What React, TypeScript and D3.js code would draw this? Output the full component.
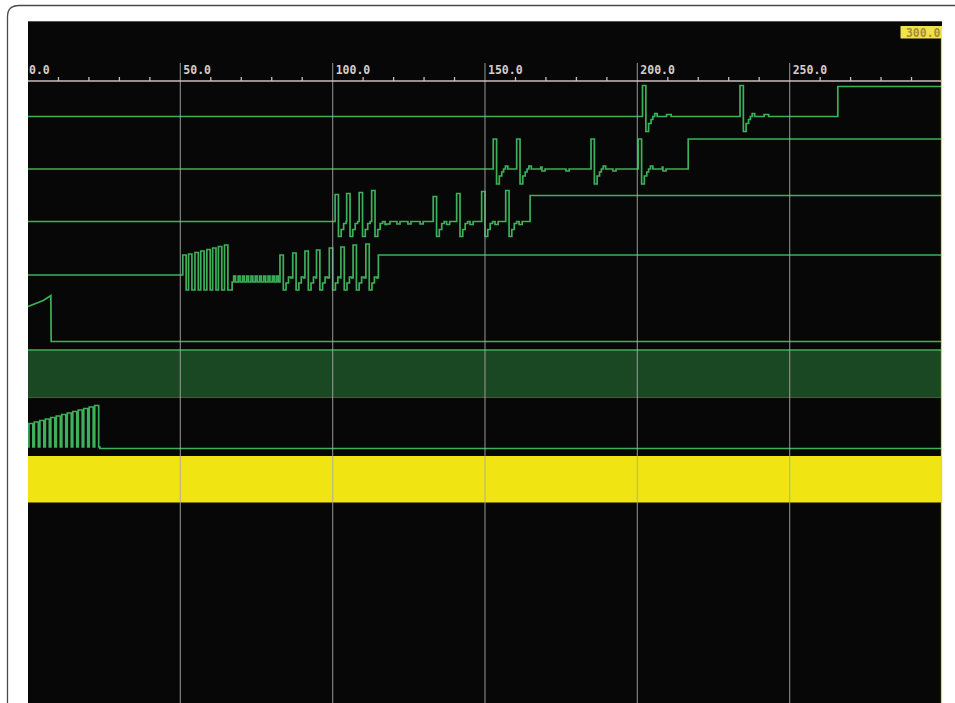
import React from "react";
import * as d3 from "d3";

const W = 955;
const H = 703;
const T_MAX = 300;

// ---------- axis data ----------
const majorTicks = [0, 50, 100, 150, 200, 250];
const tickLabels = ["0.0", "50.0", "100.0", "150.0", "200.0", "250.0"];
const cursorLabel = "300.0";

// ---------- trace data (time, amplitude) ----------
// spike waveform templates: [time offset, level]; first level replaced by the spike height
const spikeShapeA: [number, number][] = [[0, 0], [1.1, -15], [2.0, -7], [2.8, -3], [3.4, 0], [4.0, 3], [4.8, 0], [7.9, 2], [9.4, 0]];
const spikeShapeB: [number, number][] = [[0, 0], [1.1, -15], [2.0, -8], [2.8, -2], [3.6, 0], [4.4, -3], [5.4, 0]];

// row 1
const row1Spikes: [number, number][] = [[201.7, 31], [233.7, 31]];
const row1Steps: [number, number][] = [[265.8, 30]];

// row 2
const row2Spikes: [number, number][] = [[152.7, 30], [160.4, 30], [184.8, 30], [200.3, 30]];
const row2Dips = [168.7, 176.6, 192.0, 208.4];
const row2Steps: [number, number][] = [[216.7, 30]];

// row 3
const row3Spikes: [number, number][] = [[100.8, 27], [104.6, 28], [108.7, 29], [112.8, 31], [133.0, 25], [140.7, 28], [148.9, 30], [156.8, 31]];
const row3Dips = [117.8, 121.1, 124.7, 128.7];
const row3Steps: [number, number][] = [[164.8, 26]];

// row 4
const row4BurstRise = [50.8, 52.7, 54.8, 56.7, 58.7, 60.6, 62.5, 64.5];
const row4BurstTop = [20, 21, 22.5, 24, 25.5, 27, 28.5, 30];
const row4BurstEnd = 66.3;
const row4Ripple = [67.5, 69.0, 70.4, 71.8, 73.2, 74.6, 76.0, 77.4, 78.8, 80.2, 81.5];
const row4Spikes: [number, number][] = [[82.7, 20], [86.9, 22], [90.9, 24], [94.7, 25], [98.9, 27], [102.7, 28], [106.7, 30], [110.9, 31]];
const row4Steps: [number, number][] = [[115.0, 20]];

// row 5 (ramp then drop)
const row5Points: [number, number][] = [[0, 35], [2.5, 38], [5, 41], [7.5, 46], [7.6, 0], [300, 0]];

// row 7 burst
const row7BurstRise = [0.3, 2.1, 3.9, 5.7, 7.5, 9.3, 11.1, 12.9, 14.7, 16.5, 18.3, 20.1, 21.9];
const row7BurstTop = [25, 26.5, 28, 29.5, 31, 32.5, 34, 35.5, 37, 38.5, 40, 41.5, 43];
const row7BurstEnd = 23.6;

// ---------- layout ----------
const PANEL_L = 28;
const PANEL_R = 942;
const PANEL_T = 21;
const AXIS_Y = 81;
const baselines = { r1: 116.5, r2: 169, r3: 221.5, r4: 275, r5: 341.5, r7: 448.5 };
const BAND_G = { top: 350, bottom: 397.5 };
const BAND_Y = { top: 456, bottom: 502.5 };

const GREEN = "#3db05a";

type Ev = { t: number; pts: [number, number][] };

function spikes(list: [number, number][], shape: [number, number][]): Ev[] {
  return list.map(([t, a]) => ({ t, pts: shape.map(([dt, v], k) => [dt, k === 0 ? a : v] as [number, number]) }));
}
function steps(list: [number, number][]): Ev[] {
  return list.map(([t, v]) => ({ t, pts: [[0, v]] }));
}
function dips(list: number[], depth: number, width: number, rest: number): Ev[] {
  return list.map((t) => ({ t, pts: [[0, depth], [width, rest]] }));
}
function burst(rise: number[], top: number[], high: number, low: number): Ev[] {
  return rise.map((t, i) => ({ t, pts: [[0, top[i]], [high, low]] }));
}

function buildTrace(init: number, events: Ev[]): [number, number][] {
  const ev = [...events].sort((a, b) => a.t - b.t);
  const out: [number, number][] = [[0, init]];
  ev.forEach((e, i) => {
    const next = i + 1 < ev.length ? ev[i + 1].t : T_MAX;
    e.pts.forEach(([dt, v]) => {
      if (dt === 0 || e.t + dt < next) out.push([e.t + dt, v]);
    });
  });
  out.push([T_MAX, out[out.length - 1][1]]);
  return out;
}

export default function App() {
  const x = d3.scaleLinear().domain([0, T_MAX]).range([PANEL_L, PANEL_R]);
  const yFor = (b: number) => d3.scaleLinear().domain([0, 30]).range([b, b - 30]);

  const stepLine = (b: number) => {
    const y = yFor(b);
    return d3
      .line<[number, number]>()
      .x((d) => x(d[0]))
      .y((d) => y(d[1]))
      .curve(d3.curveStepAfter);
  };

  const tr1 = buildTrace(0, [...spikes(row1Spikes, spikeShapeA), ...steps(row1Steps)]);
  const tr2 = buildTrace(0, [...spikes(row2Spikes, spikeShapeA), ...dips(row2Dips, -2, 1.0, 0), ...steps(row2Steps)]);
  const tr3 = buildTrace(0, [...spikes(row3Spikes, spikeShapeB), ...dips(row3Dips, -2.5, 1.0, 0), ...steps(row3Steps)]);
  const tr4 = buildTrace(0, [
    ...burst(row4BurstRise, row4BurstTop, 1.1, -15),
    { t: row4BurstEnd, pts: [[0, -15], [0.7, -7]] },
    ...dips(row4Ripple, -1, 0.6, -7),
    ...spikes(row4Spikes, spikeShapeB.map(([dt, v]) => [dt, v === 0 ? -3 : v] as [number, number])),
    ...steps(row4Steps),
  ]);
  const tr7 = buildTrace(1.5, [
    ...burst(row7BurstRise, row7BurstTop, 1.3, 1.5),
    { t: row7BurstEnd, pts: [[0, 0]] },
  ]);

  const y5 = yFor(baselines.r5);
  const line5 = d3
    .line<[number, number]>()
    .x((d) => x(d[0]))
    .y((d) => y5(d[1]));

  const minor = x.ticks(30).filter((t) => t % 50 !== 0);
  const grid = majorTicks.filter((t) => t > 0);

  const mono = "'DejaVu Sans Mono', 'Liberation Mono', monospace";

  return (
    <svg width={W} height={H} style={{ position: "absolute", left: 0, top: 0, display: "block" }}>
      <rect x={0} y={0} width={W} height={H} fill="#ffffff" />
      {/* outer frame */}
      <path d={`M7.5,${H} V17 Q7.5,5.5 19,5.5 H${W}`} fill="none" stroke="#4a4a4a" strokeWidth={1.3} />
      {/* panel */}
      <rect x={PANEL_L} y={PANEL_T} width={PANEL_R - PANEL_L} height={H - PANEL_T} fill="#070707" />
      <line x1={PANEL_L} x2={PANEL_R} y1={PANEL_T + 0.5} y2={PANEL_T + 0.5} stroke="#7a4a2a" strokeWidth={1} />

      {/* green band */}
      <rect x={PANEL_L} y={BAND_G.top} width={PANEL_R - PANEL_L} height={BAND_G.bottom - BAND_G.top} fill="#1a4822" />
      <line x1={PANEL_L} x2={PANEL_R} y1={BAND_G.top} y2={BAND_G.top} stroke={GREEN} strokeWidth={1.7} />
      <line x1={PANEL_L} x2={PANEL_R} y1={BAND_G.bottom} y2={BAND_G.bottom} stroke="#2a6a34" strokeWidth={1} />

      {/* yellow band */}
      <rect x={PANEL_L} y={BAND_Y.top} width={PANEL_R - PANEL_L} height={BAND_Y.bottom - BAND_Y.top} fill="#f0e512" />

      {/* traces */}
      <g fill="none" stroke={GREEN} strokeWidth={1.7} strokeLinejoin="miter">
        <path d={stepLine(baselines.r1)(tr1) || ""} />
        <path d={stepLine(baselines.r2)(tr2) || ""} />
        <path d={stepLine(baselines.r3)(tr3) || ""} />
        <path d={stepLine(baselines.r4)(tr4) || ""} />
        <path d={line5(row5Points) || ""} />
        <path d={stepLine(baselines.r7)(tr7) || ""} />
      </g>

      {/* grid lines */}
      {grid.map((t) => (
        <line key={t} x1={x(t)} x2={x(t)} y1={63} y2={H} stroke="#a8a8a8" strokeOpacity={0.75} strokeWidth={1.2} />
      ))}

      {/* axis */}
      <line x1={PANEL_L} x2={PANEL_R} y1={AXIS_Y} y2={AXIS_Y} stroke="#cdbcbc" strokeWidth={1.3} />
      {minor.map((t) => (
        <line key={t} x1={x(t)} x2={x(t)} y1={AXIS_Y - 4} y2={AXIS_Y} stroke="#cdbcbc" strokeWidth={1.3} />
      ))}
      {majorTicks.map((t, i) => (
        <text key={t} x={x(t) + (t === 0 ? 1 : 3)} y={73.5} fontFamily={mono} fontSize={11.5} fontWeight="bold" fill="#d6cccc">
          {tickLabels[i]}
        </text>
      ))}

      {/* cursor at 300 */}
      <line x1={PANEL_R - 0.5} x2={PANEL_R - 0.5} y1={38} y2={H} stroke="#e6d640" strokeWidth={1.2} />
      <rect x={900.5} y={26} width={PANEL_R - 900.5} height={12.5} fill="#f0e24a" />
      <text x={PANEL_R - 1.5} y={36.5} textAnchor="end" fontFamily={mono} fontSize={11.5} fontWeight="bold" fill="#a88c3c">
        {cursorLabel}
      </text>
    </svg>
  );
}
